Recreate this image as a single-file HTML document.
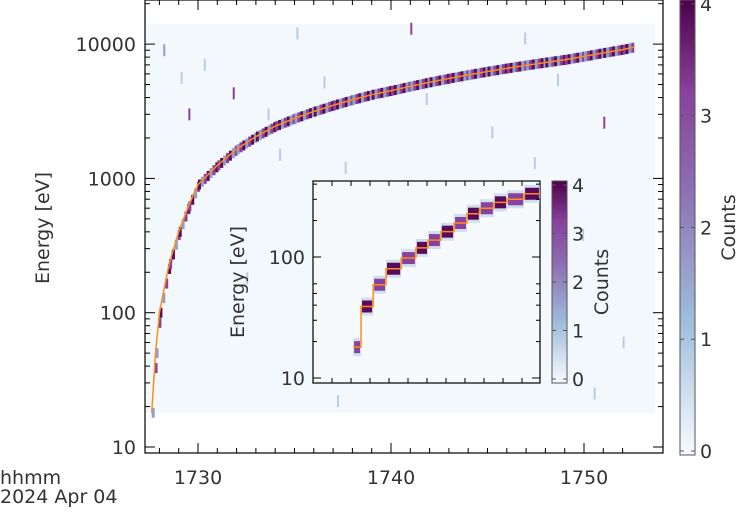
<!DOCTYPE html>
<html><head><meta charset="utf-8"><style>
body{margin:0;background:#fff;width:736px;height:512px;overflow:hidden}
svg{font-family:"DejaVu Sans","Liberation Sans",sans-serif}
</style></head><body>
<svg id="c" width="736" height="512" viewBox="0 0 736 512">
<defs>
<linearGradient id="cg" x1="0" y1="1" x2="0" y2="0">
<stop offset="0" stop-color="#f7fbff"/><stop offset="0.3" stop-color="#9ebcdb"/>
<stop offset="0.6" stop-color="#8c6bb1"/><stop offset="0.8" stop-color="#88419d"/><stop offset="1" stop-color="#4d004b"/>
</linearGradient>
</defs>
</svg>
<script>
const ns="http://www.w3.org/2000/svg";
// main curve data (time in minutes HHMM, energy eV)
const curveT=[1727.6,1727.8,1728.0,1728.5,1729.0,1729.5,1730,1731,1732,1733,1734,1735,1736,1737,1738,1739,1740,1741,1742,1743,1744,1745,1746,1747,1748,1749,1750,1751,1752,1752.6];
const curveE=[18,50,100,230,400,620,900,1250,1650,2050,2450,2800,3150,3500,3850,4200,4500,4850,5200,5550,5900,6250,6600,6950,7300,7650,8100,8600,9100,9500];
// inset step curve (step start time, energy)
const insetT=[1728.06,1728.27,1728.59,1728.93,1729.33,1729.72,1730.04,1730.38,1730.73,1731.07,1731.41,1731.78,1732.13,1732.58,1733.0];
const insetE=[18,39,59,80,98,119,138,162,191,228,253,283,300,333,333];
// sparse noise counts: [time, energy, count]
const noise=[[1728.2,9000,2],[1729.1,5600,1],[1730.3,7000,1],[1731.8,4300,3],[1733.6,3000,1],[1735.1,12000,1],[1736.5,5200,1],[1737.6,1200,1],[1738.2,250,3],[1739.4,800,1],[1741.0,13000,3],[1742.3,600,1],[1743.8,350,1],[1745.2,2200,1],[1746.1,150,3],[1747.4,1300,1],[1748.6,5400,1],[1749.9,380,1],[1751.0,2600,3],[1752.0,60,1],[1729.5,3000,3],[1734.2,1500,1],[1737.2,22,1],[1744.7,40,2],[1750.5,25,1],[1732.5,180,1],[1738.9,90,2],[1746.9,11000,1],[1728.6,260,1],[1741.8,3900,1]];
const cbTicks=["0","1","2","3","4"];
const xTicks=[1730,1740,1750];
const yTicks=[10,100,1000,10000];
const svg=document.getElementById('c');
function el(t,a,p){const e=document.createElementNS(ns,t);for(const k in a)e.setAttribute(k,a[k]);(p||svg).appendChild(e);return e;}
const X=t=>198+(t-1730)*19.3;
const Y=e=>447-(Math.log10(e)-1)*134.3;
const IX=t=>313+(t-1727.0)*37.83;
const IY=e=>378-(Math.log10(e)-1)*121;
const col=c=>["#e8f0f8","#b8cce4","#8f9fcb","#88419d","#5a0a5a"][Math.min(4,c)];
let bg=el('rect',{x:145,y:24,width:510,height:389,fill:'#f2f8fc'});

noise.forEach(n=>{let r=el('rect',{x:X(n[0]),y:Y(n[1])-6,width:2,height:12,fill:col(n[2])});
});
for(let i=0;i<curveT.length-1;i++){
 for(let t=curveT[i];t<curveT[i+1];t+=0.15){
  const f=(t-curveT[i])/(curveT[i+1]-curveT[i]);
  const e=Math.pow(10,Math.log10(curveE[i])+f*(Math.log10(curveE[i+1])-Math.log10(curveE[i])));
  let r=el('rect',{x:X(t),y:Y(e)-5,width:3,height:10,fill:col(((i+Math.round(t*7))%3)+2)});
  
 }}
let pts=curveT.map((t,i)=>X(t)+','+Y(curveE[i])).join(' ');
let pl=el('polyline',{points:pts,fill:'none',stroke:'#ff8c1a','stroke-width':1.5});

el('rect',{x:145,y:0,width:518,height:453,fill:'none',stroke:'#000','stroke-width':1.2});
for(let t=1728;t<=1752;t++){const big=t%10==0;const x=X(t);
 el('line',{x1:x,y1:453,x2:x,y2:453-(big?10:5),stroke:'#000'});el('line',{x1:x,y1:0,x2:x,y2:big?10:5,stroke:'#000'});}
xTicks.forEach(t=>{let tx=el('text',{x:X(t),y:484,'text-anchor':'middle','font-size':19,fill:'#333'});tx.textContent=t;
});
for(let d=1;d<=4;d++)for(let m=1;m<10;m++){const v=m*Math.pow(10,d);const y=Y(v);if(y<0||y>453)continue;
 el('line',{x1:145,y1:y,x2:145+(m==1?10:5),y2:y,stroke:'#000'});el('line',{x1:663,y1:y,x2:663-(m==1?10:5),y2:y,stroke:'#000'});}
yTicks.forEach(v=>{let tx=el('text',{x:136,y:Y(v)+7,'text-anchor':'end','font-size':19,fill:'#333'});tx.textContent=v;
});
let yt=el('text',{x:49,y:228,'text-anchor':'middle','font-size':19,fill:'#333',transform:'rotate(-90 49 228)'});yt.textContent='Energy [eV]';

let l1=el('text',{x:0,y:484,'font-size':19,fill:'#333'});l1.textContent='hhmm';
let l2=el('text',{x:0,y:503,'font-size':19,fill:'#333'});l2.textContent='2024 Apr 04';
function cbar(x,y0,y1,w,lab,fs,name){
 let r=el('rect',{x:x,y:y0,width:w,height:y1-y0,fill:'url(#cg)',stroke:'#555'});
 cbTicks.forEach((s,i)=>{const y=y1-(y1-y0-8)*i/4-4;el('line',{x1:x,y1:y,x2:x+4,y2:y,stroke:'#555'});el('line',{x1:x+w,y1:y,x2:x+w-4,y2:y,stroke:'#555'});
  let t=el('text',{x:x+w+5,y:y+fs*0.36,'font-size':fs,fill:'#333'});t.textContent=s;});
 let t=el('text',{x:lab,y:(y0+y1)/2,'text-anchor':'middle','font-size':fs,fill:'#333',transform:`rotate(-90 ${lab} ${(y0+y1)/2})`});t.textContent='Counts';
 }
cbar(680,0,455,15,735,19,'main-colorbar');
let ib=el('rect',{x:313,y:181,width:227,height:202,fill:'#f6fafd',stroke:'#000','stroke-width':1.2});

for(let i=0;i<insetT.length-1;i++){const x0=IX(insetT[i]),x1=IX(insetT[i+1]);
 let f=el('rect',{x:x0,y:IY(insetE[i])-9,width:x1-x0,height:18,fill:'#b8cce4',opacity:0.6});
 
 let r=el('rect',{x:x0+1,y:IY(insetE[i])-6,width:x1-x0-2,height:12,fill:col(3+(i%2))});
 }
let ip='';for(let i=0;i<insetT.length-1;i++){ip+=IX(insetT[i])+','+IY(insetE[i])+' '+IX(insetT[i+1])+','+IY(insetE[i])+' ';}
let ipl=el('polyline',{points:ip,fill:'none',stroke:'#ff8c1a','stroke-width':1.5});
for(let x=313+19;x<540;x+=19){el('line',{x1:x,y1:383,x2:x,y2:378,stroke:'#000'});el('line',{x1:x,y1:181,x2:x,y2:186,stroke:'#000'});}
[10,100].forEach(v=>{const y=IY(v);el('line',{x1:313,y1:y,x2:321,y2:y,stroke:'#000'});el('line',{x1:540,y1:y,x2:532,y2:y,stroke:'#000'});
 let t=el('text',{x:305,y:y+7,'text-anchor':'end','font-size':19,fill:'#333'});t.textContent=v;});
[20,30,40,50,60,200,300,400].forEach(v=>{const y=IY(v);if(y<181)return;el('line',{x1:313,y1:y,x2:317,y2:y,stroke:'#000'});el('line',{x1:540,y1:y,x2:536,y2:y,stroke:'#000'});});
let it=el('text',{x:244,y:282,'text-anchor':'middle','font-size':19,fill:'#333',transform:'rotate(-90 244 282)'});it.textContent='Energy [eV]';

cbar(552,181,383,15,608,19,'inset-colorbar');
</script>
</body></html>
